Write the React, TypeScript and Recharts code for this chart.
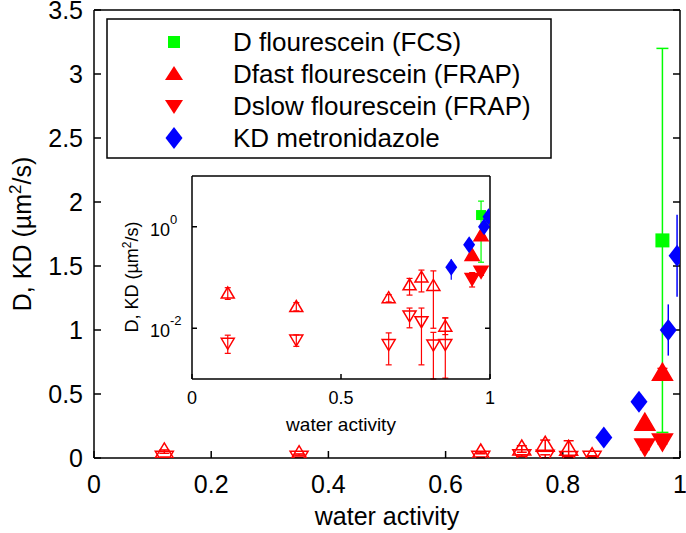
import { ScatterChart, Scatter, XAxis, YAxis, ErrorBar } from 'recharts';

const FONT = '"Liberation Sans", Arial, sans-serif';
const RED = '#ff0000';
const GREEN = '#00ff00';
const BLUE = '#0000ff';

// FRAP samples at low / intermediate water activity (open markers)
const openAw = [0.12, 0.35, 0.66, 0.73, 0.77, 0.81, 0.85];
const fastOpen = [0.048, 0.026, 0.039, 0.07, 0.099, 0.068, 0.0107];
const fastOpenLow = [0.037, 0.022, 0.033, 0.045, 0.052, 0.01, 0.0075];
const fastOpenHigh = [0.063, 0.032, 0.046, 0.096, 0.14, 0.135, 0.016];
const slowOpen = [0.0052, 0.006, 0.0049, 0.018, 0.0138, 0.0048, 0.0049];
const slowOpenLow = [0.0032, 0.0044, 0.0019, 0.0102, 0.0019, 0.001, 0.00104];
const slowOpenHigh = [0.0073, 0.0074, 0.0081, 0.025, 0.025, 0.0083, 0.016];

// FRAP samples at high water activity (filled markers)
const filledAw = [0.94, 0.97];
const fastFilled = [0.27, 0.66];
const fastFilledLow = [0.25, 0.62];
const fastFilledHigh = [0.29, 0.7];
const slowFilled = [0.096, 0.134];
const slowFilledLow = [0.065, 0.11];
const slowFilledHigh = [0.125, 0.16];

// FCS
const fcsAw = [0.97];
const fcsD = [1.7];
const fcsErr = [1.5];

// metronidazole
const kdAw = [0.87, 0.93, 0.98, 0.995];
const kdVal = [0.16, 0.44, 1.0, 1.58];
const kdErr = [0.07, 0.03, 0.2, 0.32];

const xTicks = [0, 0.2, 0.4, 0.6, 0.8, 1];
const yTicks = [0, 0.5, 1, 1.5, 2, 2.5, 3, 3.5];
const insetXTicks = [0, 0.5, 1];
const insetYTicks = [0.01, 1];

const legendItems = [
  { label: 'D flourescein (FCS)', kind: 'square' },
  { label: 'Dfast flourescein (FRAP)', kind: 'up' },
  { label: 'Dslow flourescein (FRAP)', kind: 'down' },
  { label: 'KD metronidazole', kind: 'diamond' },
];

const rowsLoHi = (aw: number[], val: number[], lo: number[], hi: number[]) =>
  aw.map((x, i) => ({ x, y: val[i], err: [val[i] - lo[i], hi[i] - val[i]] }));
const rowsSym = (aw: number[], val: number[], err: number[]) =>
  aw.map((x, i) => ({ x, y: val[i], err: err[i] }));

const fastOpenRows = rowsLoHi(openAw, fastOpen, fastOpenLow, fastOpenHigh);
const slowOpenRows = rowsLoHi(openAw, slowOpen, slowOpenLow, slowOpenHigh);
const fastFilledRows = rowsLoHi(filledAw, fastFilled, fastFilledLow, fastFilledHigh);
const slowFilledRows = rowsLoHi(filledAw, slowFilled, slowFilledLow, slowFilledHigh);
const fcsRows = rowsSym(fcsAw, fcsD, fcsErr);
const kdRows = rowsSym(kdAw, kdVal, kdErr);

// marker shapes
const triUp = (w: number, h: number, filled: boolean) => (p: any) => {
  const { cx, cy } = p;
  if (cx == null || cy == null) return <g />;
  const d = `M${cx - w / 2},${cy + h * 0.4} L${cx + w / 2},${cy + h * 0.4} L${cx},${cy - h * 0.6} Z`;
  return <path d={d} fill={filled ? RED : 'none'} stroke={RED} strokeWidth={1.5} />;
};
const triDown = (w: number, h: number, filled: boolean) => (p: any) => {
  const { cx, cy } = p;
  if (cx == null || cy == null) return <g />;
  const d = `M${cx - w / 2},${cy - h * 0.4} L${cx + w / 2},${cy - h * 0.4} L${cx},${cy + h * 0.6} Z`;
  return <path d={d} fill={filled ? RED : 'none'} stroke={RED} strokeWidth={1.5} />;
};
const diamond = (w: number, h: number) => (p: any) => {
  const { cx, cy } = p;
  if (cx == null || cy == null) return <g />;
  const d = `M${cx},${cy - h / 2} L${cx + w / 2},${cy} L${cx},${cy + h / 2} L${cx - w / 2},${cy} Z`;
  return <path d={d} fill={BLUE} stroke="none" />;
};
const square = (s: number) => (p: any) => {
  const { cx, cy } = p;
  if (cx == null || cy == null) return <g />;
  return <rect x={cx - s / 2} y={cy - s / 2} width={s} height={s} fill={GREEN} />;
};

const blankTick = () => <g />;

const PowTick = (props: any) => {
  const { x, y, payload } = props;
  const exp = Math.round(Math.log10(payload.value));
  return (
    <text x={x - 30} y={y + 9} textAnchor="start" fontSize={18} fontFamily={FONT} fill="#000">
      10
      <tspan dy={-12} fontSize={13}>{exp}</tspan>
    </text>
  );
};

const axisProps = { stroke: '#000', strokeWidth: 1.5, interval: 0 as const, allowDataOverflow: true };

const Legend = () => (
  <svg width={446} height={141} style={{ position: 'absolute', left: 106, top: 18 }}>
    <rect x={1} y={1} width={444} height={139} fill="#fff" stroke="#000" strokeWidth={1.5} />
    {legendItems.map((item, i) => {
      const cy = 24 + i * 32;
      const cx = 68;
      let mark;
      if (item.kind === 'square') mark = <rect x={cx - 6} y={cy - 6} width={12} height={12} fill={GREEN} />;
      else if (item.kind === 'up')
        mark = <path d={`M${cx - 9},${cy + 6} L${cx + 9},${cy + 6} L${cx},${cy - 8} Z`} fill={RED} />;
      else if (item.kind === 'down')
        mark = <path d={`M${cx - 9},${cy - 6} L${cx + 9},${cy - 6} L${cx},${cy + 8} Z`} fill={RED} />;
      else mark = <path d={`M${cx},${cy - 11} L${cx + 8.5},${cy} L${cx},${cy + 11} L${cx - 8.5},${cy} Z`} fill={BLUE} />;
      return (
        <g key={item.label}>
          {mark}
          <text x={127} y={cy + 9} fontSize={26} fontFamily={FONT} fill="#000">
            {item.label}
          </text>
        </g>
      );
    })}
  </svg>
);

const MainChart = () => (
  <ScatterChart width={686} height={533} margin={{ top: 9, right: 5, bottom: 0, left: 0 }}>
    <XAxis
      xAxisId="b"
      type="number"
      dataKey="x"
      domain={[0, 1]}
      ticks={xTicks}
      tickSize={-7}
      tickMargin={24}
      height={75}
      tick={{ fontSize: 25, fill: '#000', fontFamily: FONT }}
      label={{
        content: () => (
          <text x={387} y={525} textAnchor="middle" fontSize={25} fontFamily={FONT} fill="#000">
            water activity
          </text>
        ),
      }}
      {...axisProps}
    />
    <XAxis xAxisId="t" orientation="top" type="number" domain={[0, 1]} ticks={xTicks} tickSize={-7} height={1} tick={blankTick} {...axisProps} />
    <YAxis
      yAxisId="l"
      type="number"
      dataKey="y"
      domain={[0, 3.5]}
      ticks={yTicks}
      tickSize={-7}
      tickMargin={18}
      width={94}
      tick={{ fontSize: 25, fill: '#000', fontFamily: FONT }}
      label={{
        content: () => (
          <text x={31} y={234} transform="rotate(-90 31 234)" textAnchor="middle" fontSize={25} fontFamily={FONT} fill="#000">
            D, KD (µm
            <tspan dy={-10} fontSize={17}>2</tspan>
            <tspan dy={10}>/s)</tspan>
          </text>
        ),
      }}
      {...axisProps}
    />
    <YAxis yAxisId="r" orientation="right" type="number" domain={[0, 3.5]} ticks={yTicks} tickSize={-7} width={1} tick={blankTick} {...axisProps} />

    <Scatter xAxisId="b" yAxisId="l" data={fcsRows} shape={square(14)} isAnimationActive={false}>
      <ErrorBar dataKey="err" direction="y" width={6} stroke={GREEN} strokeWidth={1.5} isAnimationActive={false} />
    </Scatter>
    <Scatter xAxisId="b" yAxisId="l" data={fastOpenRows} shape={triUp(18, 15, false)} isAnimationActive={false}>
      <ErrorBar dataKey="err" direction="y" width={5} stroke={RED} strokeWidth={1.5} isAnimationActive={false} />
    </Scatter>
    <Scatter xAxisId="b" yAxisId="l" data={slowOpenRows} shape={triDown(18, 15, false)} isAnimationActive={false}>
      <ErrorBar dataKey="err" direction="y" width={5} stroke={RED} strokeWidth={1.5} isAnimationActive={false} />
    </Scatter>
    <Scatter xAxisId="b" yAxisId="l" data={fastFilledRows} shape={triUp(20, 17, true)} isAnimationActive={false}>
      <ErrorBar dataKey="err" direction="y" width={5} stroke={RED} strokeWidth={1.5} isAnimationActive={false} />
    </Scatter>
    <Scatter xAxisId="b" yAxisId="l" data={slowFilledRows} shape={triDown(20, 17, true)} isAnimationActive={false}>
      <ErrorBar dataKey="err" direction="y" width={5} stroke={RED} strokeWidth={1.5} isAnimationActive={false} />
    </Scatter>
    <Scatter xAxisId="b" yAxisId="l" data={kdRows} shape={diamond(17, 22)} isAnimationActive={false}>
      <ErrorBar dataKey="err" direction="y" width={0} stroke={BLUE} strokeWidth={1.5} isAnimationActive={false} />
    </Scatter>
  </ScatterChart>
);

const InsetChart = () => (
  <ScatterChart width={385} height={280} margin={{ top: 9, right: 4, bottom: 0, left: 0 }}>
    <XAxis
      xAxisId="b"
      type="number"
      dataKey="x"
      domain={[0, 1]}
      ticks={insetXTicks}
      tickSize={-5}
      tickMargin={17}
      height={67}
      tick={{ fontSize: 18, fill: '#000', fontFamily: FONT }}
      label={{
        content: () => (
          <text x={231} y={265} textAnchor="middle" fontSize={19} fontFamily={FONT} fill="#000">
            water activity
          </text>
        ),
      }}
      {...axisProps}
    />
    <XAxis xAxisId="t" orientation="top" type="number" domain={[0, 1]} ticks={insetXTicks} tickSize={-5} height={1} tick={blankTick} {...axisProps} />
    <YAxis
      yAxisId="l"
      type="number"
      dataKey="y"
      scale="log"
      domain={[0.001, 10]}
      ticks={insetYTicks}
      tickSize={-5}
      tickMargin={17}
      width={82}
      tick={PowTick}
      label={{
        content: () => (
          <text x={28} y={111} transform="rotate(-90 28 111)" textAnchor="middle" fontSize={18} fontFamily={FONT} fill="#000">
            D, KD (µm
            <tspan dy={-7} fontSize={12}>2</tspan>
            <tspan dy={7}>/s)</tspan>
          </text>
        ),
      }}
      {...axisProps}
    />
    <YAxis yAxisId="r" orientation="right" type="number" scale="log" domain={[0.001, 10]} ticks={insetYTicks} tickSize={-5} width={1} tick={blankTick} {...axisProps} />

    <Scatter xAxisId="b" yAxisId="l" data={fcsRows} shape={square(10)} isAnimationActive={false}>
      <ErrorBar dataKey="err" direction="y" width={3} stroke={GREEN} strokeWidth={1.2} isAnimationActive={false} />
    </Scatter>
    <Scatter xAxisId="b" yAxisId="l" data={fastOpenRows} shape={triUp(13, 11, false)} isAnimationActive={false}>
      <ErrorBar dataKey="err" direction="y" width={3} stroke={RED} strokeWidth={1.2} isAnimationActive={false} />
    </Scatter>
    <Scatter xAxisId="b" yAxisId="l" data={slowOpenRows} shape={triDown(13, 11, false)} isAnimationActive={false}>
      <ErrorBar dataKey="err" direction="y" width={3} stroke={RED} strokeWidth={1.2} isAnimationActive={false} />
    </Scatter>
    <Scatter xAxisId="b" yAxisId="l" data={fastFilledRows} shape={triUp(14, 12, true)} isAnimationActive={false}>
      <ErrorBar dataKey="err" direction="y" width={3} stroke={RED} strokeWidth={1.2} isAnimationActive={false} />
    </Scatter>
    <Scatter xAxisId="b" yAxisId="l" data={slowFilledRows} shape={triDown(14, 12, true)} isAnimationActive={false}>
      <ErrorBar dataKey="err" direction="y" width={3} stroke={RED} strokeWidth={1.2} isAnimationActive={false} />
    </Scatter>
    <Scatter xAxisId="b" yAxisId="l" data={kdRows} shape={diamond(12, 17)} isAnimationActive={false}>
      <ErrorBar dataKey="err" direction="y" width={0} stroke={BLUE} strokeWidth={1.2} isAnimationActive={false} />
    </Scatter>
  </ScatterChart>
);

export default function App() {
  return (
    <div style={{ position: 'absolute', left: 0, top: 0, width: 686, height: 533, background: '#fff' }}>
      <MainChart />
      <div style={{ position: 'absolute', left: 110, top: 166 }}>
        <InsetChart />
      </div>
      <Legend />
    </div>
  );
}
